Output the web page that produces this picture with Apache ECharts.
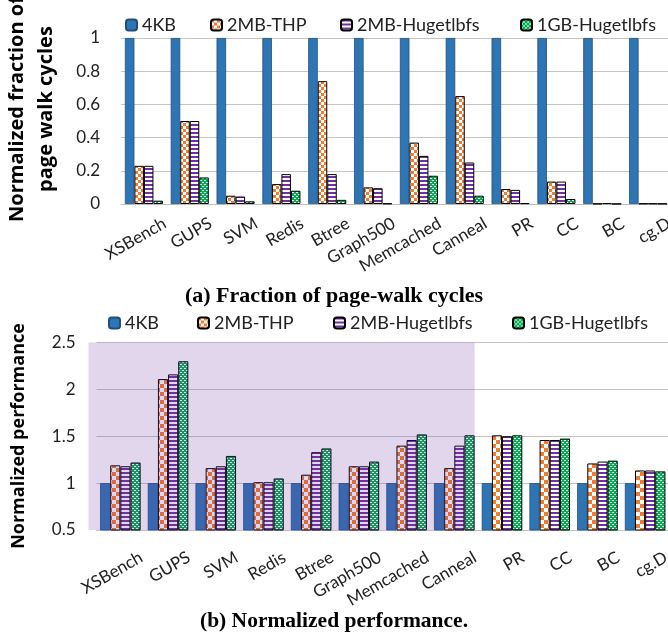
<!DOCTYPE html>
<html><head><meta charset="utf-8">
<script src="https://cdn.jsdelivr.net/npm/echarts/dist/echarts.min.js"></script>
<style>html,body{margin:0;padding:0;background:#fff}#c{width:668px;height:636px}</style>
</head><body><div id="c"></div>
<script>
const categories = ['XSBench','GUPS','SVM','Redis','Btree','Graph500','Memcached','Canneal','PR','CC','BC','cg.D'];
const seriesNames = ['4KB','2MB-THP','2MB-Hugetlbfs','1GB-Hugetlbfs'];
// (a) normalized fraction of page walk cycles
const walk4KB    = [1,1,1,1,1,1,1,1,1,1,1,1];
const walkTHP    = [0.23,0.50,0.05,0.12,0.74,0.10,0.37,0.65,0.09,0.135,0.002,0.003];
const walkHuge2M = [0.23,0.50,0.045,0.18,0.18,0.095,0.29,0.25,0.085,0.135,0.005,0.003];
const walkHuge1G = [0.02,0.16,0.016,0.08,0.025,0.003,0.17,0.05,0.005,0.03,0.001,0.002];
// (b) normalized performance
const perf4KB    = [1,1,1,1,1,1,1,1,1,1,1,1];
const perfTHP    = [1.19,2.11,1.16,1.01,1.09,1.18,1.40,1.16,1.51,1.46,1.21,1.135];
const perfHuge2M = [1.18,2.16,1.18,1.01,1.33,1.18,1.46,1.40,1.50,1.46,1.23,1.135];
const perfHuge1G = [1.22,2.30,1.29,1.05,1.37,1.23,1.52,1.51,1.51,1.475,1.24,1.125];
const walkTicks = [0,0.2,0.4,0.6,0.8,1];
const perfTicks = [0.5,1,1.5,2,2.5];
const highlighted = ['XSBench','Canneal']; // shaded range in (b)

function mk(w,h,draw){const c=document.createElement('canvas');c.width=w;c.height=h;draw(c.getContext('2d'));return c;}
function checker(s){return mk(2*s,2*s,g=>{g.fillStyle='#fff';g.fillRect(0,0,2*s,2*s);g.fillStyle='#ED7D31';g.fillRect(0,0,s,s);g.fillRect(s,s,s,s);});}
const stripes = mk(4,4,g=>{g.fillStyle='#fff';g.fillRect(0,0,4,4);g.fillStyle='#7030A0';g.fillRect(0,0,4,2);});
const dots = mk(4,4,g=>{g.fillStyle='#00B050';g.fillRect(0,0,4,4);g.fillStyle='#fff';g.fillRect(0,0,2,1);g.fillRect(2,2,2,1);});

const FONT = 'Lato';
function styles(s){
  return [
    {color:'#2E75B6', borderColor:'#1F4E79', borderWidth:0.8},
    {color:{image:checker(s),repeat:'repeat'}, borderColor:'#000', borderWidth:1},
    {color:{image:stripes,repeat:'repeat'}, borderColor:'#000', borderWidth:1},
    {color:{image:dots,repeat:'repeat'}, borderColor:'#000', borderWidth:1}
  ];
}
const topStyles = styles(3), botStyles = styles(4);
const walkData = [walk4KB, walkTHP, walkHuge2M, walkHuge1G];
const perfData = [perf4KB, perfTHP, perfHuge2M, perfHuge1G];

const series = [];
seriesNames.forEach((n,i)=>{
  series.push({name:n,type:'bar',xAxisIndex:0,yAxisIndex:0,data:walkData[i],itemStyle:topStyles[i],barGap:'0%',barCategoryGap:'17%'});
});
seriesNames.forEach((n,i)=>{
  series.push({name:n,type:'bar',xAxisIndex:1,yAxisIndex:1,data:perfData[i],itemStyle:botStyles[i],barGap:'0%',barCategoryGap:'15%'});
});

const legendTopX = [120,205,335,515], legendBotX = [103,192,328,507];
const legends = [];
seriesNames.forEach((n,i)=>{
  legends.push({data:[n],left:legendTopX[i],top:11,itemWidth:11,itemHeight:11,textStyle:{fontSize:18,fontFamily:FONT,color:'#222'}});
  legends.push({data:[n],left:legendBotX[i],top:309,itemWidth:11,itemHeight:11,textStyle:{fontSize:18,fontFamily:FONT,color:'#222'}});
});

function xAxis(gi,margin){
  return {type:'category',gridIndex:gi,data:categories,
    axisTick:{show:false},axisLine:{lineStyle:{color:'#bfbfbf',width:1}},
    axisLabel:{interval:0,rotate:30,fontSize:17,fontFamily:FONT,color:'#222',margin:margin,padding:[0,-24,0,0]}};
}
function yAxis(gi,ticks){
  return {type:'value',gridIndex:gi,min:ticks[0],max:ticks[ticks.length-1],interval:ticks[1]-ticks[0],
    axisLine:{show:false},axisTick:{show:false},
    splitLine:{lineStyle:{color:'#c4c4c4',width:1}},
    axisLabel:{fontSize:17,fontFamily:FONT,color:'#222',margin:21}};
}

const baseGraphic = [
  {id:'yt1',type:'text',x:32,y:109,rotation:Math.PI/2,style:{text:'Normalized fraction of\npage walk cycles',font:'bold 20px "Open Sans"',fill:'#000',textAlign:'center',textVerticalAlign:'middle',lineHeight:29}},
  {id:'yt2',type:'text',x:19,y:436,rotation:Math.PI/2,style:{text:'Normalized performance',font:'bold 18px "Open Sans"',fill:'#000',textAlign:'center',textVerticalAlign:'middle'}},
  {id:'cap1',type:'text',x:334,y:296,style:{text:'(a) Fraction of page-walk cycles',font:'bold 22px "Liberation Serif"',fill:'#000',textAlign:'center',textVerticalAlign:'middle'}},
  {id:'cap2',type:'text',x:334,y:621,style:{text:'(b) Normalized performance.',font:'bold 21.5px "Liberation Serif"',fill:'#000',textAlign:'center',textVerticalAlign:'middle'}}
];

const option = {
  animation:false,
  backgroundColor:'#fff',
  grid:[
    {left:121,right:-3,top:38,height:166,outerBoundsMode:'none',containLabel:false},
    {left:96.5,right:-1,top:342.5,height:187.5,outerBoundsMode:'none',containLabel:false}
  ],
  legend:legends,
  xAxis:[xAxis(0,30),xAxis(1,38)],
  yAxis:[yAxis(0,walkTicks),yAxis(1,perfTicks)],
  series:series,
  graphic:{elements:baseGraphic}
};
const chart = echarts.init(document.getElementById('c'),null,{renderer:'canvas'});
chart.setOption(option);

const c0 = chart.convertToPixel({xAxisIndex:1}, highlighted[0]);
const c1 = chart.convertToPixel({xAxisIndex:1}, categories[1]);
const c7 = chart.convertToPixel({xAxisIndex:1}, highlighted[1]);
const bw = c1 - c0;
const yTop = chart.convertToPixel({yAxisIndex:1}, perfTicks[perfTicks.length-1]);
const yBot = chart.convertToPixel({yAxisIndex:1}, perfTicks[0]);
const x0 = c0 - bw/2 - 8, x1 = c7 + bw/2 - 3.5;
chart.setOption({graphic:{elements:[
  {id:'band',type:'rect',z:100,silent:true,shape:{x:x0,y:yTop,width:x1-x0,height:yBot-yTop},style:{fill:'rgba(112,48,160,0.2)'}}
]}});
</script></body></html>
